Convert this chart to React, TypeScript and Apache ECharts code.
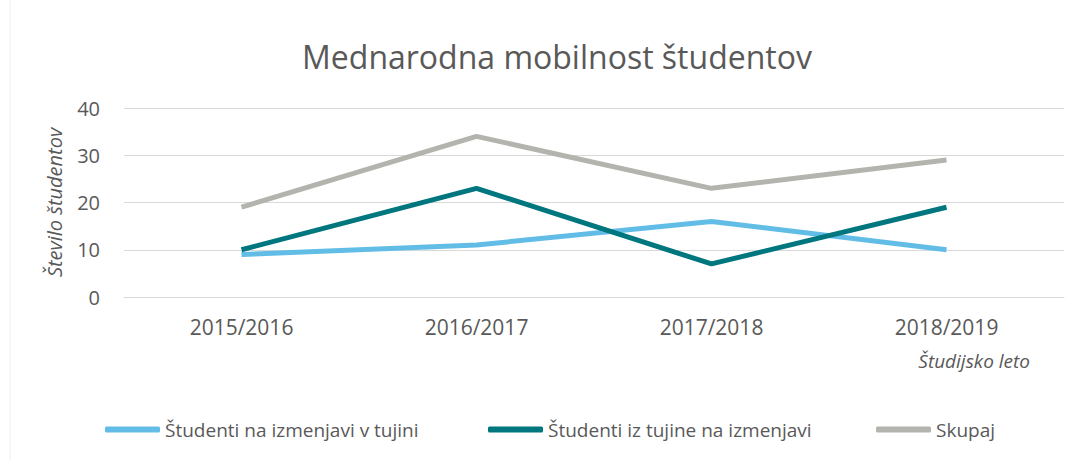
import React, { useEffect, useRef } from "react";
import * as echarts from "echarts";

const categories = ["2015/2016", "2016/2017", "2017/2018", "2018/2019"];
const seriesNames = [
  "Študenti na izmenjavi v tujini",
  "Študenti iz tujine na izmenjavi",
  "Skupaj",
];
const outgoing = [9, 11, 16, 10];
const incoming = [10, 23, 7, 19];
const total = [19, 34, 23, 29];
const colors = ["#62BDE6", "#00767E", "#B4B4AE"];
const yTicks = { min: 0, max: 40, interval: 10 };

const FONT = "'Open Sans', sans-serif";
const TXT = "#595959";

export default function App() {
  const ref = useRef<HTMLDivElement>(null);
  useEffect(() => {
    if (!ref.current) return;
    const chart = echarts.init(ref.current, undefined, { renderer: "svg" });
    const values = [outgoing, incoming, total];
    const legendLefts = [105, 488, 876];
    chart.setOption({
      animation: false,
      backgroundColor: "#ffffff",
      textStyle: { fontFamily: FONT },
      title: {
        text: "Mednarodna mobilnost študentov",
        left: 552,
        top: 35,
        textAlign: "center",
        textStyle: { fontFamily: FONT, fontSize: 32, fontWeight: "normal", color: TXT },
      },
      legend: seriesNames.map((n, i) => ({
        data: [n],
        left: legendLefts[i],
        top: 420,
        padding: 0,
        icon: "roundRect",
        itemWidth: 55,
        itemHeight: 6,
        textStyle: { fontFamily: FONT, fontSize: 19, color: TXT },
      })),
      grid: { left: 124, right: 13, top: 108, bottom: 163, containLabel: false },
      xAxis: {
        type: "category",
        data: categories,
        boundaryGap: true,
        axisLine: { show: true, lineStyle: { color: "#D9D9D9", width: 1 } },
        axisTick: { show: false },
        axisLabel: { fontFamily: FONT, fontSize: 21, color: TXT, margin: 19 },
      },
      yAxis: {
        type: "value",
        min: yTicks.min,
        max: yTicks.max,
        interval: yTicks.interval,
        name: "Število študentov",
        nameLocation: "middle",
        nameGap: 60,
        nameTextStyle: { fontFamily: FONT, fontSize: 20, fontStyle: "italic", color: TXT },
        axisLine: { show: false },
        axisTick: { show: false },
        axisLabel: { fontFamily: FONT, fontSize: 20, color: TXT, margin: 24 },
        splitLine: { lineStyle: { color: "#D9D9D9", width: 1 } },
      },
      graphic: [
        {
          type: "text",
          right: 47,
          top: 351,
          style: {
            text: "Študijsko leto",
            fontFamily: FONT,
            fontSize: 19,
            fontStyle: "italic",
            fill: TXT,
          },
        },
        {
          type: "line",
          shape: { x1: 10, y1: 0, x2: 10, y2: 460 },
          style: { stroke: "#EEEEEE", lineWidth: 1 },
        },
      ],
      series: seriesNames.map((n, i) => ({
        name: n,
        type: "line",
        data: values[i],
        symbol: "none",
        lineStyle: { color: colors[i], width: 5 },
        itemStyle: { color: colors[i] },
        z: i === 0 ? 3 : i === 1 ? 4 : 2,
      })),
    });
    return () => chart.dispose();
  }, []);
  return (
    <div
      ref={ref}
      style={{ position: "fixed", left: 0, top: 0, width: 1077, height: 460 }}
    />
  );
}
